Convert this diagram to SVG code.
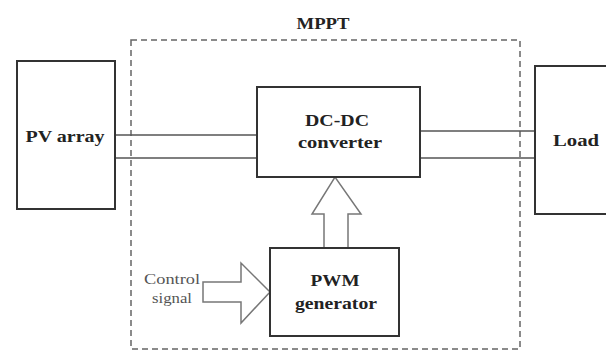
<svg xmlns="http://www.w3.org/2000/svg" width="606" height="352" viewBox="0 0 606 352">
<style>
.box{fill:#fff;stroke:#333;stroke-width:2}
.lbl{font-family:"Liberation Serif","Times New Roman",serif;font-weight:bold;font-size:17px;fill:#222;text-anchor:middle}
.sm{font-family:"Liberation Serif","Times New Roman",serif;font-size:15px;fill:#555;text-anchor:middle}
.wire{stroke:#555;stroke-width:1.5;fill:none}
.fat{fill:#fff;stroke:#777;stroke-width:1.5;stroke-linejoin:miter}
.dash{fill:none;stroke:#666;stroke-width:1.5;stroke-dasharray:6 4}
</style>
<rect width="606" height="352" fill="#fff"/>
<g id="mppt">
<rect class="dash" x="131" y="40" width="389" height="309"/>
<text class="lbl" x="323" y="29" textLength="53" lengthAdjust="spacingAndGlyphs">MPPT</text>
</g>
<g id="connectors">
<line class="wire" x1="115" y1="135" x2="257" y2="135"/>
<line class="wire" x1="115" y1="158" x2="257" y2="158"/>
<line class="wire" x1="420" y1="131" x2="535" y2="131"/>
<line class="wire" x1="420" y1="158" x2="535" y2="158"/>
<polygon class="fat" points="324,248 324,214 312,214 335,177 361,214 348,214 348,248"/>
<polygon class="fat" points="203,282 241,282 241,263 270,292 241,323 241,302 203,302"/>
</g>
<g id="pv">
<rect class="box" x="17" y="61" width="98" height="148"/>
<text class="lbl" x="65" y="142" textLength="79" lengthAdjust="spacingAndGlyphs">PV array</text>
</g>
<g id="dcdc">
<rect class="box" x="257" y="87" width="163" height="90"/>
<text class="lbl" x="337" y="126" textLength="64" lengthAdjust="spacingAndGlyphs">DC-DC</text>
<text class="lbl" x="340" y="148" textLength="84" lengthAdjust="spacingAndGlyphs">converter</text>
</g>
<g id="load">
<rect class="box" x="535" y="66" width="90" height="148"/>
<text class="lbl" x="576" y="146" textLength="46" lengthAdjust="spacingAndGlyphs">Load</text>
</g>
<g id="pwm">
<rect class="box" x="270" y="248" width="129" height="88"/>
<text class="lbl" x="335" y="286" textLength="49" lengthAdjust="spacingAndGlyphs">PWM</text>
<text class="lbl" x="336" y="309" textLength="82" lengthAdjust="spacingAndGlyphs">generator</text>
</g>
<g id="control">
<text class="sm" x="172" y="284" textLength="56" lengthAdjust="spacingAndGlyphs">Control</text>
<text class="sm" x="172" y="303" textLength="40" lengthAdjust="spacingAndGlyphs">signal</text>
</g>
</svg>
